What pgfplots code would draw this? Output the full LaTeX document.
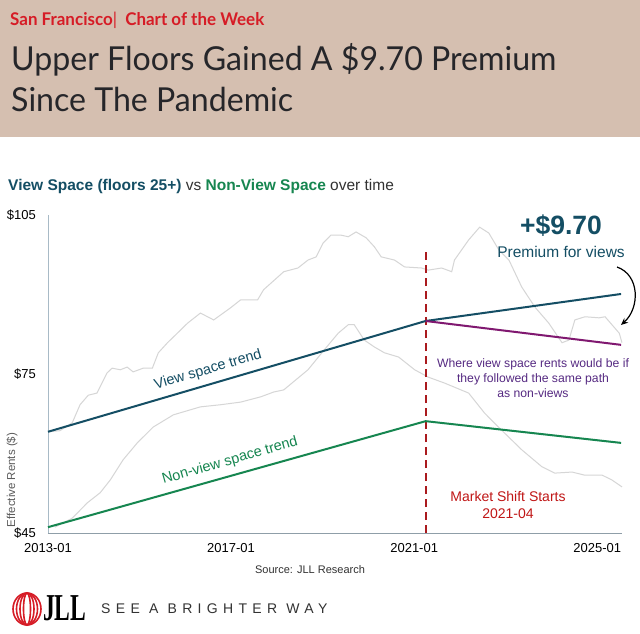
\documentclass[border=0pt]{standalone}
\usepackage{pgfplots}
\pgfplotsset{compat=1.18}
\usetikzlibrary{arrows.meta}
\usepackage{fontspec}
\setmainfont{Liberation Sans}
\newfontfamily\lato{Lato}
\newfontfamily\serifb{Liberation Serif}
\definecolor{beige}{RGB}{213,191,176}
\definecolor{jllred}{RGB}{214,28,38}
\definecolor{titlegray}{RGB}{38,38,42}
\definecolor{teal}{RGB}{20,78,100}
\definecolor{vgreen}{RGB}{22,134,80}
\definecolor{purpline}{RGB}{128,24,112}
\definecolor{purptext}{RGB}{86,42,130}
\definecolor{dashred}{RGB}{170,26,30}
\definecolor{mred}{RGB}{192,22,22}
\definecolor{lgray}{RGB}{214,214,214}
\definecolor{axisblue}{RGB}{168,186,198}
\definecolor{txtgray}{RGB}{50,50,50}
\begin{document}
\begin{tikzpicture}[x=1pt,y=1pt]
\path[use as bounding box] (0,0) rectangle (640,633);
\fill[white] (0,0) rectangle (640,633);
\fill[beige] (0,496) rectangle (640,633);
\node[anchor=base west,inner sep=0,xscale=0.97,text=jllred,font=\lato\bfseries\fontsize{17.5}{17.5}\selectfont] at (10,607) {San Francisco{\fontseries{m}\selectfont|}\ \ Chart of the Week};
\node[anchor=base west,inner sep=0,xscale=0.973,text=titlegray,font=\lato\fontsize{33}{33}\selectfont] at (11,562) {Upper Floors Gained A \$9.70 Premium};
\node[anchor=base west,inner sep=0,xscale=0.973,text=titlegray,font=\lato\fontsize{33}{33}\selectfont] at (11,521) {Since The Pandemic};
\node[anchor=base west,inner sep=0,font=\fontsize{15.5}{15.5}\selectfont] at (8,442.5) {\textcolor{teal}{\bfseries View Space (floors 25+)}\textcolor{txtgray}{\ vs\ }\textcolor{vgreen}{\bfseries Non-View Space}\textcolor{txtgray}{\ over time}};
\begin{axis}[
  at={(48pt,100pt)}, anchor=south west,
  scale only axis, width=574pt, height=318pt,
  xmin=2013, xmax=2025.54, ymin=45, ymax=105,
  axis x line*=bottom, axis y line*=left,
  x axis line style={draw=axisblue!85!black,-},
  y axis line style={draw=axisblue,-},
  xtick={2013,2017,2021,2025}, xticklabels={2013-01,2017-01,2021-01,2025-01},
  ytick={45,75,105}, yticklabels={\$45,\$75,\$105},
  major tick length=0pt, tick style={draw=none},
  tick label style={font=\fontsize{13}{13}\selectfont, text=black},
  yticklabel style={anchor=east, inner sep=0pt, xshift=-12pt},
  xticklabel style={anchor=north, inner sep=0pt, yshift=-10pt},
  clip=false,
]
\addplot[draw=lgray, line width=1pt] coordinates {(2013.00,64.1) (2013.26,64.3) (2013.53,65.8) (2013.70,69.2) (2013.88,71.0) (2014.07,71.4) (2014.29,75.2) (2014.40,76.1) (2014.58,75.8) (2014.73,76.3) (2014.86,75.4) (2015.08,76.1) (2015.28,76.1) (2015.41,79.0) (2015.61,80.9) (2015.79,82.4) (2016.05,84.6) (2016.33,86.5) (2016.62,85.2) (2016.99,87.5) (2017.21,89.0) (2017.58,89.0) (2017.71,90.9) (2018.15,94.3) (2018.46,95.0) (2018.68,96.5) (2018.86,97.1) (2019.01,99.7) (2019.18,101.2) (2019.40,101.2) (2019.56,100.9) (2019.73,101.8) (2019.95,100.7) (2020.13,99.0) (2020.28,97.1) (2020.57,96.5) (2020.79,95.2) (2021.16,95.0) (2021.31,94.6) (2021.60,95.0) (2021.82,94.3) (2021.88,96.5) (2022.19,100.3) (2022.43,102.7) (2022.63,101.6) (2022.85,98.4) (2023.07,96.5) (2023.35,91.4) (2023.64,87.6) (2023.94,84.6) (2024.23,80.9) (2024.38,81.4) (2024.51,85.2) (2024.73,85.8) (2025.04,85.6) (2025.17,85.8) (2025.32,84.3) (2025.48,82.7) (2025.54,80.9)};
\addplot[draw=lgray, line width=1pt] coordinates {(2013.15,46.1) (2013.53,47.8) (2013.86,50.7) (2014.14,52.6) (2014.36,55.0) (2014.64,58.8) (2014.95,62.0) (2015.30,65.0) (2015.74,67.3) (2016.33,68.8) (2016.77,69.2) (2017.21,69.7) (2017.65,70.7) (2017.93,71.6) (2018.15,72.0) (2018.68,75.8) (2019.03,79.5) (2019.34,82.7) (2019.56,84.3) (2019.69,84.3) (2019.91,81.4) (2020.13,80.1) (2020.35,79.0) (2020.66,78.2) (2021.01,75.8) (2021.31,74.4) (2021.66,73.3) (2022.19,71.4) (2022.54,67.6) (2022.91,64.4) (2023.35,60.7) (2023.79,57.5) (2024.07,56.3) (2024.45,56.5) (2024.73,55.9) (2025.11,55.9) (2025.32,55.0) (2025.54,53.7)};
\addplot[draw=dashred, line width=1.8pt, dash pattern=on 8pt off 5pt] coordinates {(2021.25,45) (2021.25,98.8)};
\addplot[draw=teal, line width=2pt] coordinates {(2013,64.1) (2021.25,85.0) (2025.52,90.1)};
\addplot[draw=vgreen, line width=2pt] coordinates {(2013,46.1) (2021.25,66.1) (2025.52,62.0)};
\addplot[draw=purpline, line width=2pt] coordinates {(2021.25,85.0) (2025.52,80.5)};
\end{axis}
\node[text=teal,font=\bfseries\fontsize{26.5}{26.5}\selectfont] at (561,407) {+\$9.70};
\node[text=teal,font=\fontsize{15.5}{15.5}\selectfont] at (561,381) {Premium for views};
\draw[-{Stealth[length=7pt,width=6pt]}, line width=1.2pt, black] (617,366) .. controls (640,358) and (640,325) .. (621,308);
\node[text=purptext,align=center,font=\fontsize{12.2}{15}\selectfont] at (533,255) {Where view space rents would be if\\they followed the same path\\as non-views};
\node[text=mred,align=center,font=\fontsize{14}{17}\selectfont] at (508,128) {Market Shift Starts\\2021-04};
\node[text=teal,rotate=16.5,font=\fontsize{14.5}{14.5}\selectfont] at (208,263) {View space trend};
\node[text=vgreen,rotate=16,font=\fontsize{14.5}{14.5}\selectfont] at (230,172) {Non-view space trend};
\node[text=txtgray!80,rotate=90,font=\fontsize{11.5}{11.5}\selectfont] at (12,153) {Effective Rents (\$)};
\node[text=txtgray,font=\fontsize{11}{11}\selectfont] at (310,63) {Source: JLL Research};
% footer logo
\foreach \r in {14,10.5,7,3.5} {\draw[jllred, line width=1.6pt] (27,24) ellipse ({\r pt} and 16pt);}
\node[anchor=west,inner sep=0,xscale=0.62,font=\serifb\bfseries\fontsize{38}{38}\selectfont] at (43,25) {JLL};
\node[anchor=west,inner sep=0,text=txtgray,font=\fontsize{14}{14}\selectfont\addfontfeature{LetterSpace=38}] at (101,24) {SEE A BRIGHTER WAY};
\end{tikzpicture}
\end{document}
